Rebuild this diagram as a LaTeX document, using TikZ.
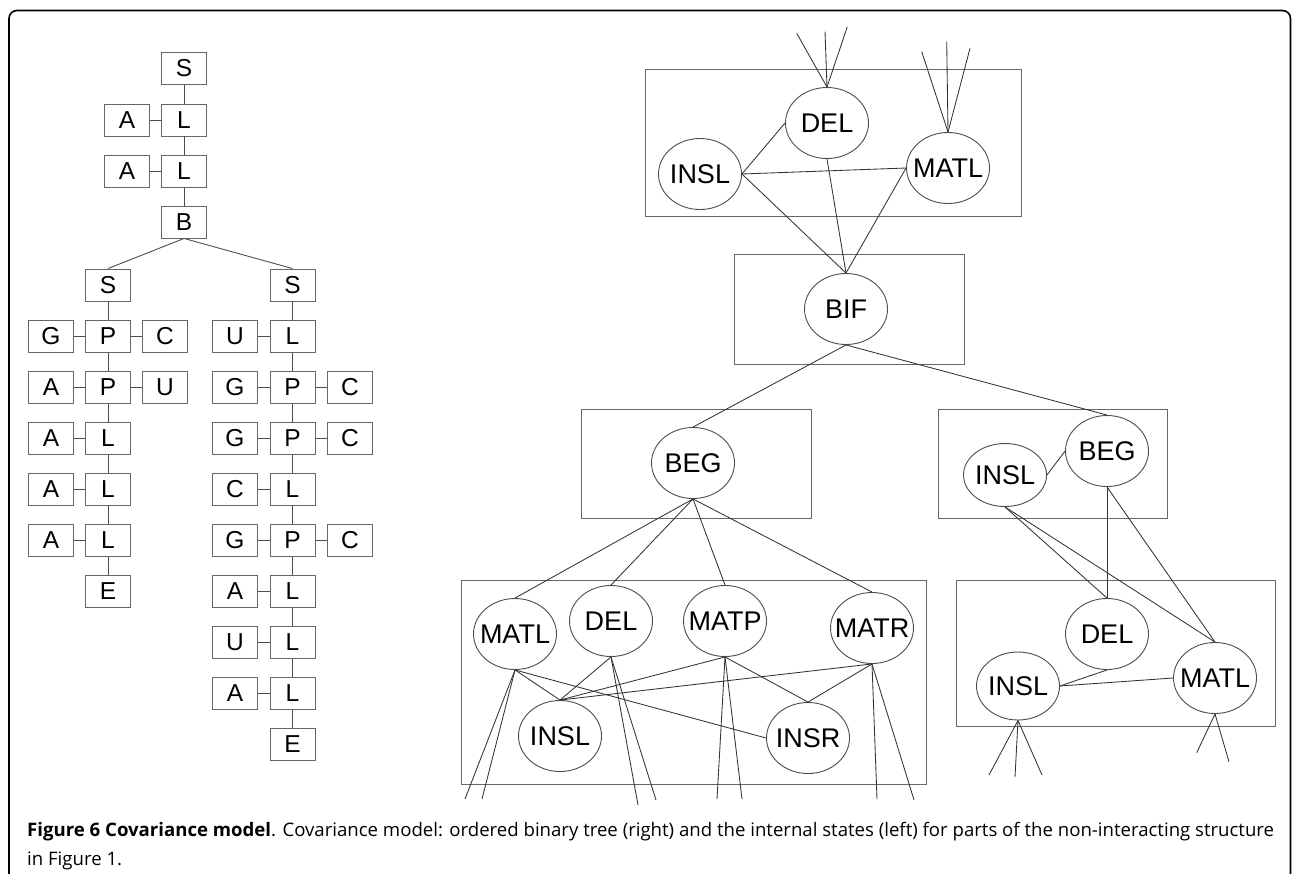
\documentclass[tikz,border=0pt]{standalone}
\usepackage{fontspec}
\setmainfont{Liberation Sans}
\newfontfamily\capfont{Open Sans}
\usetikzlibrary{shapes.geometric}
\newcommand\zt[1]{\makebox[0pt][c]{#1}}
\tikzset{
  bx/.style={draw=black!60, line width=0.9pt, rectangle, minimum width=45pt, minimum height=32pt, inner sep=0pt, font=\fontsize{24.5}{24.5}\selectfont},
  grp/.style={draw=black!60, line width=0.9pt},
  st/.style={draw=black!70, line width=0.9pt, ellipse, minimum width=83pt, minimum height=71pt, inner sep=0pt, font=\fontsize{27}{27}\selectfont},
  ln/.style={draw=black!80, line width=0.85pt},
  tl/.style={draw=black!70, line width=0.9pt}
}
\begin{document}
\begin{tikzpicture}[x=1pt,y=-1pt]
\useasboundingbox (0,0) rectangle (1292,873);
% frame
\draw[line width=1.6pt, rounded corners=8pt] (9,880) -- (9,10.5) -- (1290.5,10.5) -- (1290.5,880);

% ---------------- left tree ----------------
\node[bx] (t0) at (184,68.5) {S};
\node[bx] (a1) at (127,120) {A};
\node[bx] (l1) at (184,120) {L};
\node[bx] (a2) at (127,171) {A};
\node[bx] (l2) at (184,171) {L};
\node[bx] (b) at (184,222) {B};
\node[bx] (sl) at (108,285) {S};
\node[bx] (sr) at (292.5,285) {S};
\draw[tl] (t0) -- (l1) -- (l2) -- (b);
\draw[tl] (a1) -- (l1); \draw[tl] (a2) -- (l2);
\draw[tl] (b.south) -- (sl.north);
\draw[tl] (b.south) -- (sr.north);

% left column
\node[bx] (p1) at (108,336.5) {P};
\node[bx] (g1) at (51,336.5) {G};
\node[bx] (c1) at (165,336.5) {C};
\node[bx] (p2) at (108,387.5) {P};
\node[bx] (a3) at (51,387.5) {A};
\node[bx] (u1) at (165,387.5) {U};
\node[bx] (l3) at (108,438.5) {L};
\node[bx] (a4) at (51,438.5) {A};
\node[bx] (l4) at (108,489.5) {L};
\node[bx] (a5) at (51,489.5) {A};
\node[bx] (l5) at (108,540.5) {L};
\node[bx] (a6) at (51,540.5) {A};
\node[bx] (e1) at (108,591.5) {E};
\draw[tl] (sl) -- (p1) -- (p2) -- (l3) -- (l4) -- (l5) -- (e1);
\draw[tl] (g1) -- (p1) -- (c1);
\draw[tl] (a3) -- (p2) -- (u1);
\draw[tl] (a4) -- (l3); \draw[tl] (a5) -- (l4); \draw[tl] (a6) -- (l5);

% right column
\node[bx] (r1) at (292.5,336.5) {L};
\node[bx] (ru1) at (235,336.5) {U};
\node[bx] (r2) at (292.5,387.5) {P};
\node[bx] (rg2) at (235,387.5) {G};
\node[bx] (rc2) at (350,387.5) {C};
\node[bx] (r3) at (292.5,438.5) {P};
\node[bx] (rg3) at (235,438.5) {G};
\node[bx] (rc3) at (350,438.5) {C};
\node[bx] (r4) at (292.5,489.5) {L};
\node[bx] (rc4) at (235,489.5) {C};
\node[bx] (r5) at (292.5,540.5) {P};
\node[bx] (rg5) at (235,540.5) {G};
\node[bx] (rc5) at (350,540.5) {C};
\node[bx] (r6) at (292.5,591.5) {L};
\node[bx] (ra6) at (235,591.5) {A};
\node[bx] (r7) at (292.5,642.5) {L};
\node[bx] (ru7) at (235,642.5) {U};
\node[bx] (r8) at (292.5,693.5) {L};
\node[bx] (ra8) at (235,693.5) {A};
\node[bx] (re) at (292.5,744.5) {E};
\draw[tl] (sr) -- (r1) -- (r2) -- (r3) -- (r4) -- (r5) -- (r6) -- (r7) -- (r8) -- (re);
\draw[tl] (ru1) -- (r1);
\draw[tl] (rg2) -- (r2) -- (rc2);
\draw[tl] (rg3) -- (r3) -- (rc3);
\draw[tl] (rc4) -- (r4);
\draw[tl] (rg5) -- (r5) -- (rc5);
\draw[tl] (ra6) -- (r6);
\draw[tl] (ru7) -- (r7);
\draw[tl] (ra8) -- (r8);

% ---------------- right: model ----------------
% group boxes
\draw[grp] (645.7,69.3) rectangle (1021,216);
\draw[grp] (734.3,254.3) rectangle (964,364.3);
\draw[grp] (581.7,409) rectangle (811,518.3);
\draw[grp] (938.3,409.3) rectangle (1167.7,518.3);
\draw[grp] (461,580) rectangle (926,784);
\draw[grp] (956.7,580) rectangle (1275.7,726.5);

% top group
\node[st] (del1) at (827,123) {\zt{DEL}};
\node[st] (insl1) at (700,174) {\zt{INSL}};
\node[st] (matl1) at (948,168) {\zt{MATL}};
\coordinate (d1a) at (796.7,33.3);
\coordinate (d1b) at (825,31.7);
\coordinate (d1c) at (847.3,26.7);
\coordinate (m1a) at (921.7,51.7);
\coordinate (m1b) at (946.7,41.7);
\coordinate (m1c) at (970,48.3);
\draw[ln] (d1a) -- (del1.north);
\draw[ln] (d1b) -- (del1.north);
\draw[ln] (d1c) -- (del1.north);
\draw[ln] (m1a) -- (matl1.north);
\draw[ln] (m1b) -- (matl1.north);
\draw[ln] (m1c) -- (matl1.north);
\draw[ln] (insl1.east) -- (del1.west);
\draw[ln] (insl1.east) -- (matl1.west);

% BIF
\node[st] (bif) at (846,309) {\zt{BIF}};
\draw[ln] (insl1.east) -- (bif.north);
\draw[ln] (del1.south) -- (bif.north);
\draw[ln] (matl1.west) -- (bif.north);

% left BEG
\node[st] (beg) at (693,463) {\zt{BEG}};
% right BEG group
\node[st, minimum height=63pt] (insl2) at (1005,475) {\zt{INSL}};
\node[st] (beg2) at (1107,451) {\zt{BEG}};
\draw[ln] (bif.south) -- (beg.north);
\draw[ln] (bif.south) -- (beg2.north);
\draw[ln] (insl2.east) -- (beg2.west);

% bottom-right group
\node[st] (del3) at (1107,634) {\zt{DEL}};
\node[st, minimum height=68pt] (insl3) at (1018,686) {\zt{INSL}};
\node[st] (matl3) at (1215,678) {\zt{MATL}};
\draw[ln] (insl2.south) -- (del3.north);
\draw[ln] (insl2.south) -- (matl3.north);
\draw[ln] (beg2.south) -- (del3.north);
\draw[ln] (beg2.south) -- (matl3.north);
\draw[ln] (insl3.east) -- (del3.south);
\draw[ln] (insl3.east) -- (matl3.west);
\coordinate (i3a) at (989,775);
\coordinate (i3b) at (1015,777);
\coordinate (i3c) at (1042,775);
\coordinate (m3a) at (1196.7,752.7);
\coordinate (m3b) at (1229,761.7);
\draw[ln] (insl3.south) -- (i3a);
\draw[ln] (insl3.south) -- (i3b);
\draw[ln] (insl3.south) -- (i3c);
\draw[ln] (matl3.south) -- (m3a);
\draw[ln] (matl3.south) -- (m3b);

% bottom-left group
\node[st] (matl4) at (515,634) {\zt{MATL}};
\node[st] (del4) at (611,621) {\zt{DEL}};
\node[st] (matp) at (725,621) {\zt{MATP}};
\node[st] (matr) at (872,628) {\zt{MATR}};
\node[st] (insl4) at (560,736) {\zt{INSL}};
\node[st] (insr) at (808,738) {\zt{INSR}};
\draw[ln] (beg.south) -- (matl4.north);
\draw[ln] (beg.south) -- (del4.north);
\draw[ln] (beg.south) -- (matp.north);
\draw[ln] (beg.south) -- (matr.north);
\draw[ln] (matl4.south) -- (insl4.north);
\draw[ln] (matl4.south) -- (insr.west);
\draw[ln] (del4.south) -- (insl4.north);
\draw[ln] (matp.south) -- (insl4.north);
\draw[ln] (matp.south) -- (insr.north);
\draw[ln] (matr.south) -- (insl4.north);
\draw[ln] (matr.south) -- (insr.north);
\coordinate (x1) at (465,799);
\coordinate (x2) at (482,799);
\coordinate (x3) at (638,805);
\coordinate (x4) at (656,800);
\coordinate (x5) at (717,799);
\coordinate (x6) at (742,799);
\coordinate (x7) at (877,799);
\coordinate (x8) at (914,800);
\draw[ln] (matl4.south) -- (x1);
\draw[ln] (matl4.south) -- (x2);
\draw[ln] (del4.south) -- (x3);
\draw[ln] (del4.south) -- (x4);
\draw[ln] (matp.south) -- (x5);
\draw[ln] (matp.south) -- (x6);
\draw[ln] (matr.south) -- (x7);
\draw[ln] (matr.south) -- (x8);

% caption
\node[anchor=base west, inner sep=0pt, font=\capfont\fontsize{18.6}{18.6}\selectfont] (cap1) at (27,836)
  {\textbf{Figure 6 Covariance model}. Covariance model: ordered binary tree (right) and the internal states (left) for parts of the non-interacting structure};
\node[anchor=base west, inner sep=0pt, font=\capfont\fontsize{18.6}{18.6}\selectfont] (cap2) at (27,865)
  {in Figure 1.};
\end{tikzpicture}
\end{document}
